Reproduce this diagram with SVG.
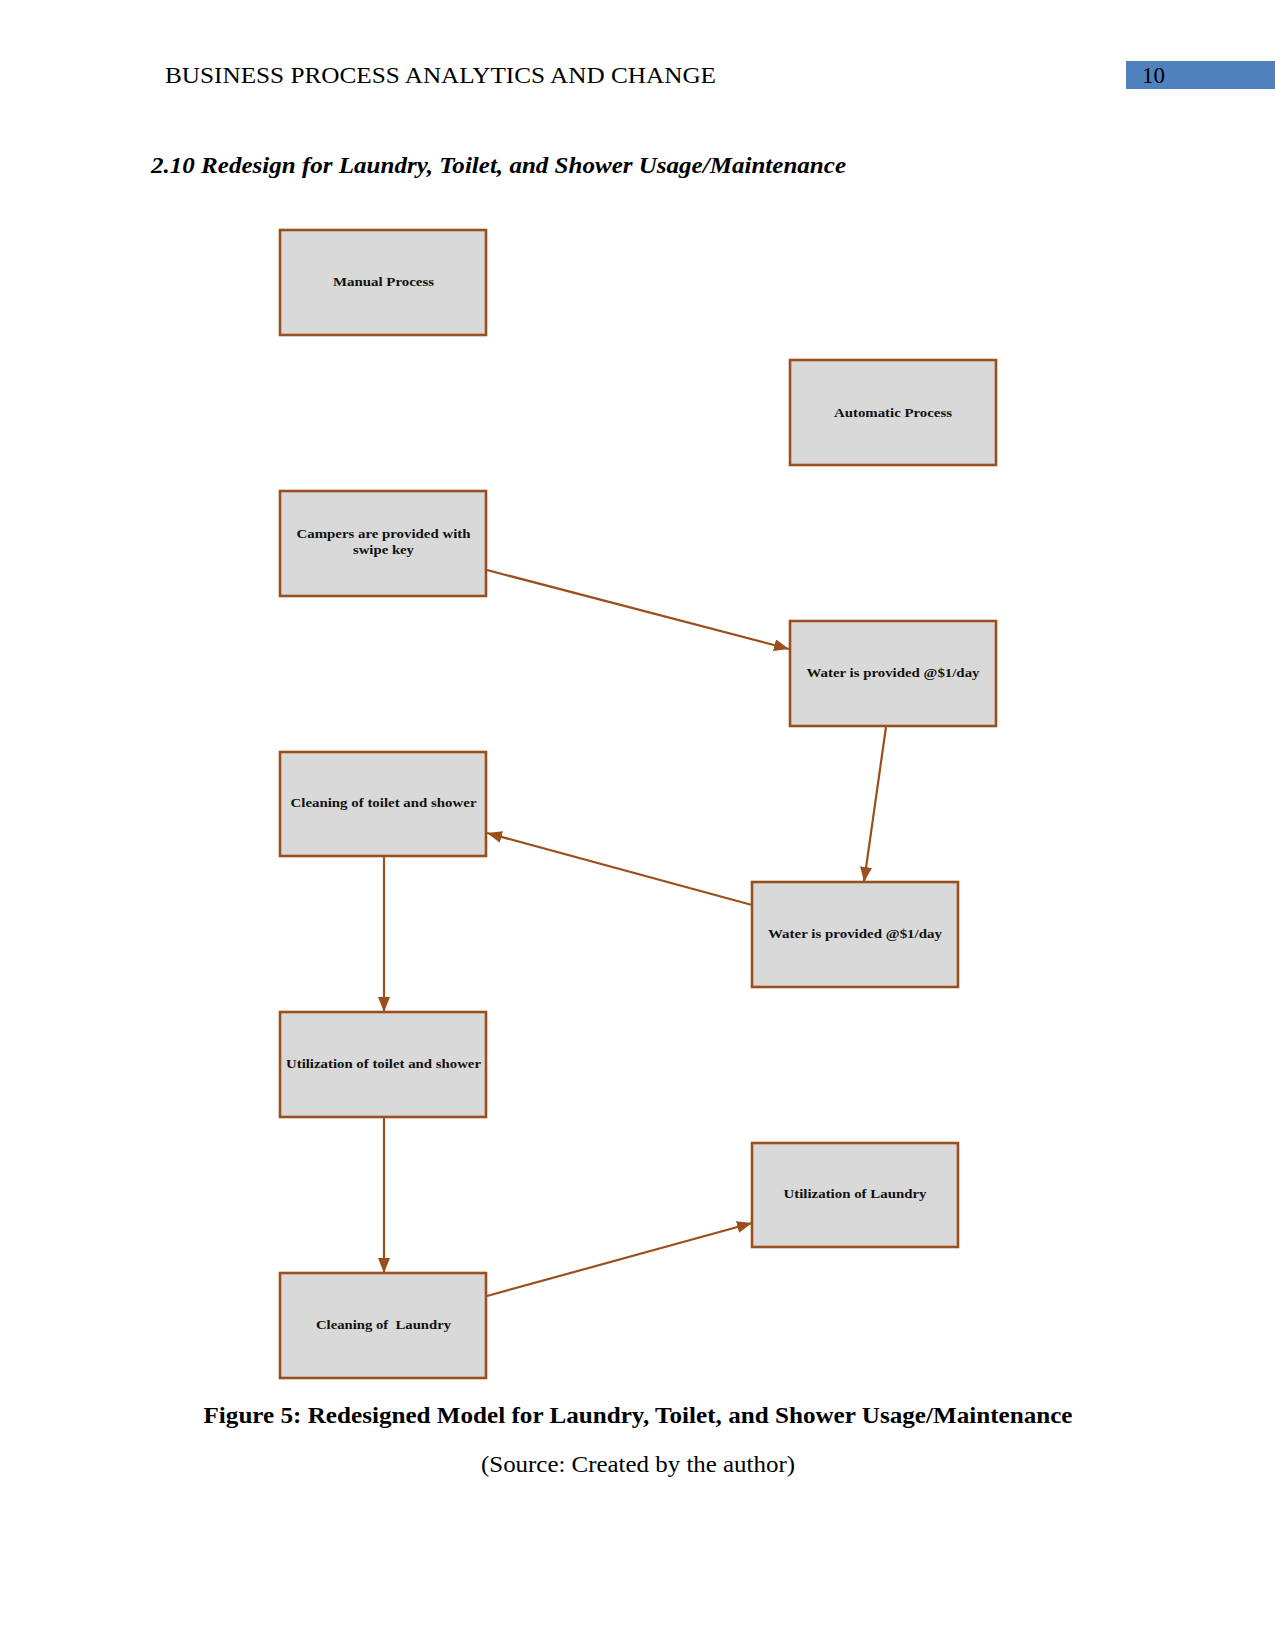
<svg xmlns="http://www.w3.org/2000/svg" width="1275" height="1650" viewBox="0 0 1275 1650">
<defs>
<style>
.box{fill:#d9d9d9;stroke:#9a4f1c;stroke-width:2.6}
.lbl{font-family:"Liberation Serif","Times New Roman",serif;font-weight:bold;font-size:11.5px;fill:#111;text-anchor:middle}
.edge{stroke:#9a4f1c;stroke-width:2.2;fill:none;marker-end:url(#ah)}
.serif{font-family:"Liberation Serif","Times New Roman",serif;fill:#000}
</style>
<marker id="ah" markerUnits="userSpaceOnUse" markerWidth="16" markerHeight="12" refX="15" refY="6" orient="auto">
<path d="M0,0 L15,6 L0,12 Z" fill="#9a4f1c"/>
</marker>
</defs>
<rect width="1275" height="1650" fill="#fff"/>
<text class="serif" x="165" y="83" font-size="24" textLength="551" lengthAdjust="spacingAndGlyphs">BUSINESS PROCESS ANALYTICS AND CHANGE</text>
<rect x="1126" y="61" width="149" height="28" fill="#4f81bd"/>
<text class="serif" x="1142" y="83" font-size="23">10</text>
<text class="serif" x="151" y="173" font-size="24" font-weight="bold" font-style="italic" textLength="695" lengthAdjust="spacingAndGlyphs">2.10 Redesign for Laundry, Toilet, and Shower Usage/Maintenance</text>

<g id="connectors">
<line class="edge" x1="487" y1="570" x2="789" y2="649"/>
<line class="edge" x1="886" y1="727" x2="864" y2="882"/>
<line class="edge" x1="752" y1="905" x2="487" y2="833"/>
<line class="edge" x1="384" y1="856" x2="384" y2="1012"/>
<line class="edge" x1="384" y1="1117" x2="384" y2="1273"/>
<line class="edge" x1="487" y1="1296" x2="752" y2="1223"/>
</g>

<g id="manual">
<rect class="box" x="280" y="230" width="206" height="105"/>
<text class="lbl" x="383.5" y="286" textLength="101" lengthAdjust="spacingAndGlyphs">Manual Process</text>
</g>
<g id="automatic">
<rect class="box" x="790" y="360" width="206" height="105"/>
<text class="lbl" x="893" y="417" textLength="118" lengthAdjust="spacingAndGlyphs">Automatic Process</text>
</g>
<g id="campers">
<rect class="box" x="280" y="491" width="206" height="105"/>
<text class="lbl" x="383.5" y="538" textLength="174" lengthAdjust="spacingAndGlyphs">Campers are provided with</text>
<text class="lbl" x="383.5" y="554" textLength="61" lengthAdjust="spacingAndGlyphs">swipe key</text>
</g>
<g id="water1">
<rect class="box" x="790" y="621" width="206" height="105"/>
<text class="lbl" x="893" y="677" textLength="173" lengthAdjust="spacingAndGlyphs">Water is provided @$1/day</text>
</g>
<g id="cleaning-toilet">
<rect class="box" x="280" y="752" width="206" height="104"/>
<text class="lbl" x="383.5" y="807" textLength="186" lengthAdjust="spacingAndGlyphs">Cleaning of toilet and shower</text>
</g>
<g id="water2">
<rect class="box" x="752" y="882" width="206" height="105"/>
<text class="lbl" x="855" y="938" textLength="174" lengthAdjust="spacingAndGlyphs">Water is provided @$1/day</text>
</g>
<g id="util-toilet">
<rect class="box" x="280" y="1012" width="206" height="105"/>
<text class="lbl" x="383.5" y="1068" textLength="195" lengthAdjust="spacingAndGlyphs">Utilization of toilet and shower</text>
</g>
<g id="util-laundry">
<rect class="box" x="752" y="1143" width="206" height="104"/>
<text class="lbl" x="855" y="1198" textLength="143" lengthAdjust="spacingAndGlyphs">Utilization of Laundry</text>
</g>
<g id="cleaning-laundry">
<rect class="box" x="280" y="1273" width="206" height="105"/>
<text class="lbl" x="383.5" y="1329" textLength="135" lengthAdjust="spacingAndGlyphs" xml:space="preserve">Cleaning of  Laundry</text>
</g>

<text class="serif" x="638" y="1423" font-size="24" font-weight="bold" text-anchor="middle" textLength="869" lengthAdjust="spacingAndGlyphs">Figure 5: Redesigned Model for Laundry, Toilet, and Shower Usage/Maintenance</text>
<text class="serif" x="638" y="1472" font-size="24" text-anchor="middle" textLength="314" lengthAdjust="spacingAndGlyphs">(Source: Created by the author)</text>
</svg>
